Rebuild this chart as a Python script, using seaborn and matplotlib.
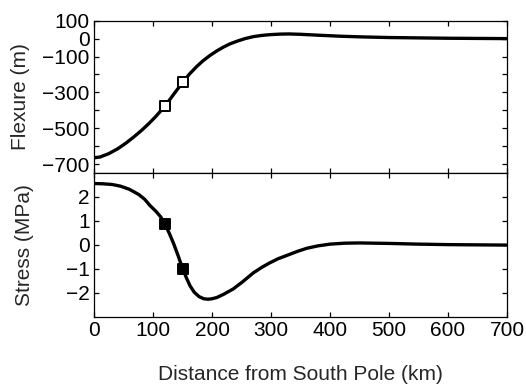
import numpy as np
import pandas as pd
import seaborn as sns
import matplotlib
matplotlib.use("Agg")
import matplotlib.pyplot as plt

# flexure profile (m)
flex_x = [0, 10, 25, 40, 53, 67, 81, 93, 104, 120, 135, 150, 162, 174, 185, 197, 208, 219,
          230, 242, 256, 270, 285, 298, 315, 330, 350, 380, 420, 460, 500, 550, 600, 650, 700]
flex_y = [-665, -661, -642, -615, -586, -550, -511, -474, -437, -378, -311, -245, -197, -156, -123, -93, -69, -48,
          -30, -15, 0, 11, 18, 22, 25, 26, 24, 19, 13, 9, 6, 4, 2, 1, 0]

# stress profile (MPa)
stress_x = [0, 15, 31, 45, 60, 76, 86, 95, 105, 113, 120, 128, 135, 143, 150, 157, 163, 170, 178,
            186, 193, 200, 208, 220, 236, 252, 270, 285, 298, 312, 327, 345, 361, 380, 400, 425,
            450, 500, 550, 600, 650, 700]
stress_y = [2.56, 2.55, 2.52, 2.45, 2.32, 2.10, 1.9, 1.64, 1.40, 1.17, 0.88, 0.46, 0.05, -0.48, -0.98, -1.4, -1.72, -1.98, -2.16,
            -2.25, -2.27, -2.25, -2.2, -2.06, -1.84, -1.54, -1.17, -0.93, -0.75, -0.58, -0.44, -0.27, -0.14, -0.04, 0.03, 0.07,
            0.08, 0.06, 0.03, 0.01, 0.0, -0.01]

# marked sites
site_x = [120, 151]
site_flex = [-378, -242]
site_stress = [0.88, -1.02]

x_ticks = [0, 100, 200, 300, 400, 500, 600, 700]
flex_ticks = [100, 0, -100, -200, -300, -400, -500, -600, -700]
flex_ticklabels = ["100", "0", "\u2212100", "", "\u2212300", "", "\u2212500", "", "\u2212700"]
stress_ticks = [2, 1, 0, -1, -2]

sns.set_theme(style="ticks")
plt.rcParams["font.family"] = ["Liberation Sans", "DejaVu Sans"]
plt.rcParams["font.size"] = 15
plt.rcParams["axes.linewidth"] = 0.9
plt.rcParams["xtick.direction"] = "in"
plt.rcParams["ytick.direction"] = "in"
plt.rcParams["xtick.major.size"] = 3.5
plt.rcParams["ytick.major.size"] = 3.5
plt.rcParams["xtick.major.width"] = 0.9
plt.rcParams["ytick.major.width"] = 0.9
plt.rcParams["xtick.color"] = "black"
plt.rcParams["ytick.color"] = "black"
plt.rcParams["axes.edgecolor"] = "black"

fig = plt.figure(figsize=(5.26, 3.86), dpi=100)
ax1 = fig.add_axes([0.1787, 0.5518, 0.7852, 0.3946])
ax2 = fig.add_axes([0.1787, 0.1795, 0.7852, 0.3723])

df_flex = pd.DataFrame({"x": flex_x, "y": flex_y})
df_stress = pd.DataFrame({"x": stress_x, "y": stress_y})

sns.lineplot(data=df_flex, x="x", y="y", ax=ax1, color="black", linewidth=2.4)
sns.scatterplot(x=site_x, y=site_flex, ax=ax1, marker="s", s=55, facecolor="white",
                edgecolor="black", linewidth=1.4, zorder=5)

sns.lineplot(data=df_stress, x="x", y="y", ax=ax2, color="black", linewidth=2.4)
sns.scatterplot(x=site_x, y=site_stress, ax=ax2, marker="s", s=55, facecolor="black",
                edgecolor="black", linewidth=1.4, zorder=5)

for ax in (ax1, ax2):
    ax.set_xlim(0, 700)
    ax.set_xticks(x_ticks)
    ax.tick_params(top=True, right=True, labelsize=15, pad=3)
    for sp in ax.spines.values():
        sp.set_visible(True)
        sp.set_color("black")

ax1.set_ylim(-750, 100)
ax1.set_yticks(flex_ticks)
ax1.set_yticklabels(flex_ticklabels)
ax1.tick_params(labelbottom=False)
ax1.set_xlabel("")
ax1.set_ylabel("Flexure (m)", fontsize=15)

ax2.set_ylim(-3, 3)
ax2.set_yticks(stress_ticks)
ax2.set_yticklabels([str(v).replace("-", "\u2212") for v in stress_ticks])
ax2.set_xlabel("Distance from South Pole (km)", fontsize=15, labelpad=18)
ax2.set_ylabel("Stress (MPa)", fontsize=15)

ax1.yaxis.set_label_coords(-0.155, 0.5)
ax2.yaxis.set_label_coords(-0.145, 0.5)

fig.savefig("out.png", dpi=100)
